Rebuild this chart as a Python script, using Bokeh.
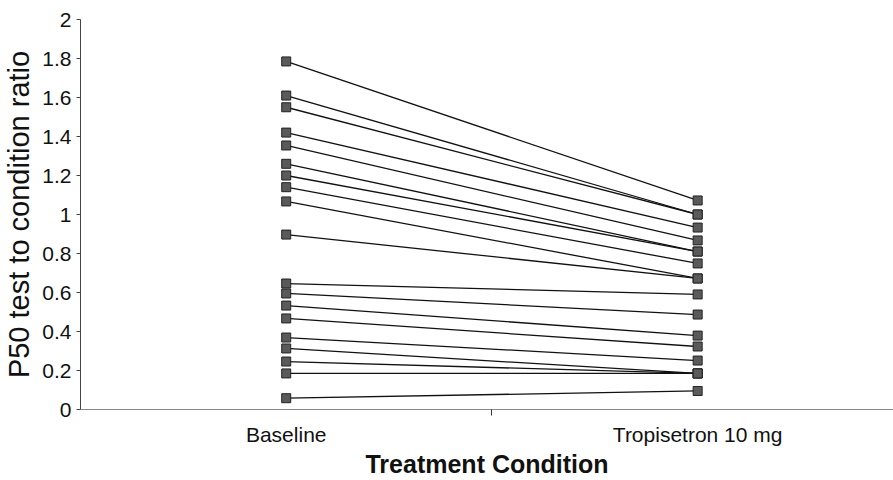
from bokeh.plotting import figure
from bokeh.models import FixedTicker, CustomJSTickFormatter, Range1d, ColumnDataSource
from bokeh.embed import file_html
from bokeh.resources import INLINE

categories = ["Baseline", "Tropisetron 10 mg"]
cat_pos = [0.5, 1.5]
baseline = [1.785, 1.61, 1.55, 1.42, 1.354, 1.26, 1.20, 1.14, 1.067, 0.897,
            0.646, 0.595, 0.533, 0.467, 0.369, 0.313, 0.246, 0.185, 0.058]
tropisetron = [1.072, 1.0, 1.0, 0.933, 0.867, 0.81, 0.81, 0.749, 0.672, 0.672,
               0.59, 0.487, 0.379, 0.323, 0.251, 0.185, 0.185, 0.185, 0.095]
y_ticks = [0.0, 0.2, 0.4, 0.6, 0.8, 1.0, 1.2, 1.4, 1.6, 1.8, 2.0]

FONT = "Liberation Sans"

p = figure(width=893, height=480, output_backend="svg", toolbar_location=None,
           x_range=Range1d(0, 1.976), y_range=Range1d(0, 2),
           min_border_left=79, min_border_top=19, min_border_right=0, min_border_bottom=71)
p.outline_line_color = None
p.xgrid.visible = False
p.ygrid.visible = False

xs = [[cat_pos[0], cat_pos[1]] for _ in baseline]
ys = [[b, t] for b, t in zip(baseline, tropisetron)]
p.multi_line(xs=xs, ys=ys, line_color="#111111", line_width=1.3)

src = ColumnDataSource(dict(
    x=[cat_pos[0]] * len(baseline) + [cat_pos[1]] * len(tropisetron),
    y=baseline + tropisetron))
p.scatter("x", "y", source=src, marker="square", size=9,
          fill_color="#5a5a5a", line_color="#222222", line_width=1)

# x axis
xa = p.xaxis[0]
xa.ticker = FixedTicker(ticks=cat_pos, minor_ticks=[1.0])
xa.major_label_overrides = {0.5: categories[0], 1.5: categories[1]}
xa.major_tick_out = 0
xa.major_tick_in = 0
xa.minor_tick_out = 6
xa.minor_tick_in = 0
xa.minor_tick_line_color = "#333333"
xa.axis_line_color = "#888888"
xa.major_label_text_font = FONT
xa.major_label_text_font_size = "21px"
xa.major_label_text_color = "#111111"
xa.major_label_standoff = 7
xa.axis_label = "Treatment Condition"
xa.axis_label_text_font = FONT
xa.axis_label_text_font_style = "bold"
xa.axis_label_text_font_size = "25px"
xa.axis_label_text_color = "#111111"
xa.axis_label_standoff = 1

# y axis
ya = p.yaxis[0]
ya.ticker = FixedTicker(ticks=y_ticks, minor_ticks=[])
ya.formatter = CustomJSTickFormatter(code="return tick.toFixed(1).replace(/\\.0$/, '');")
ya.major_tick_out = 4
ya.major_tick_in = 0
ya.axis_line_color = "#444444"
ya.major_tick_line_color = "#444444"
ya.major_label_text_font = FONT
ya.major_label_text_font_size = "21px"
ya.major_label_text_color = "#111111"
ya.major_label_standoff = 5
ya.axis_label = "P50 test to condition ratio"
ya.axis_label_text_font = FONT
ya.axis_label_text_font_style = "normal"
ya.axis_label_text_font_size = "29px"
ya.axis_label_text_color = "#111111"
ya.axis_label_standoff = 4

open("out.html", "w").write(file_html(p, INLINE))
